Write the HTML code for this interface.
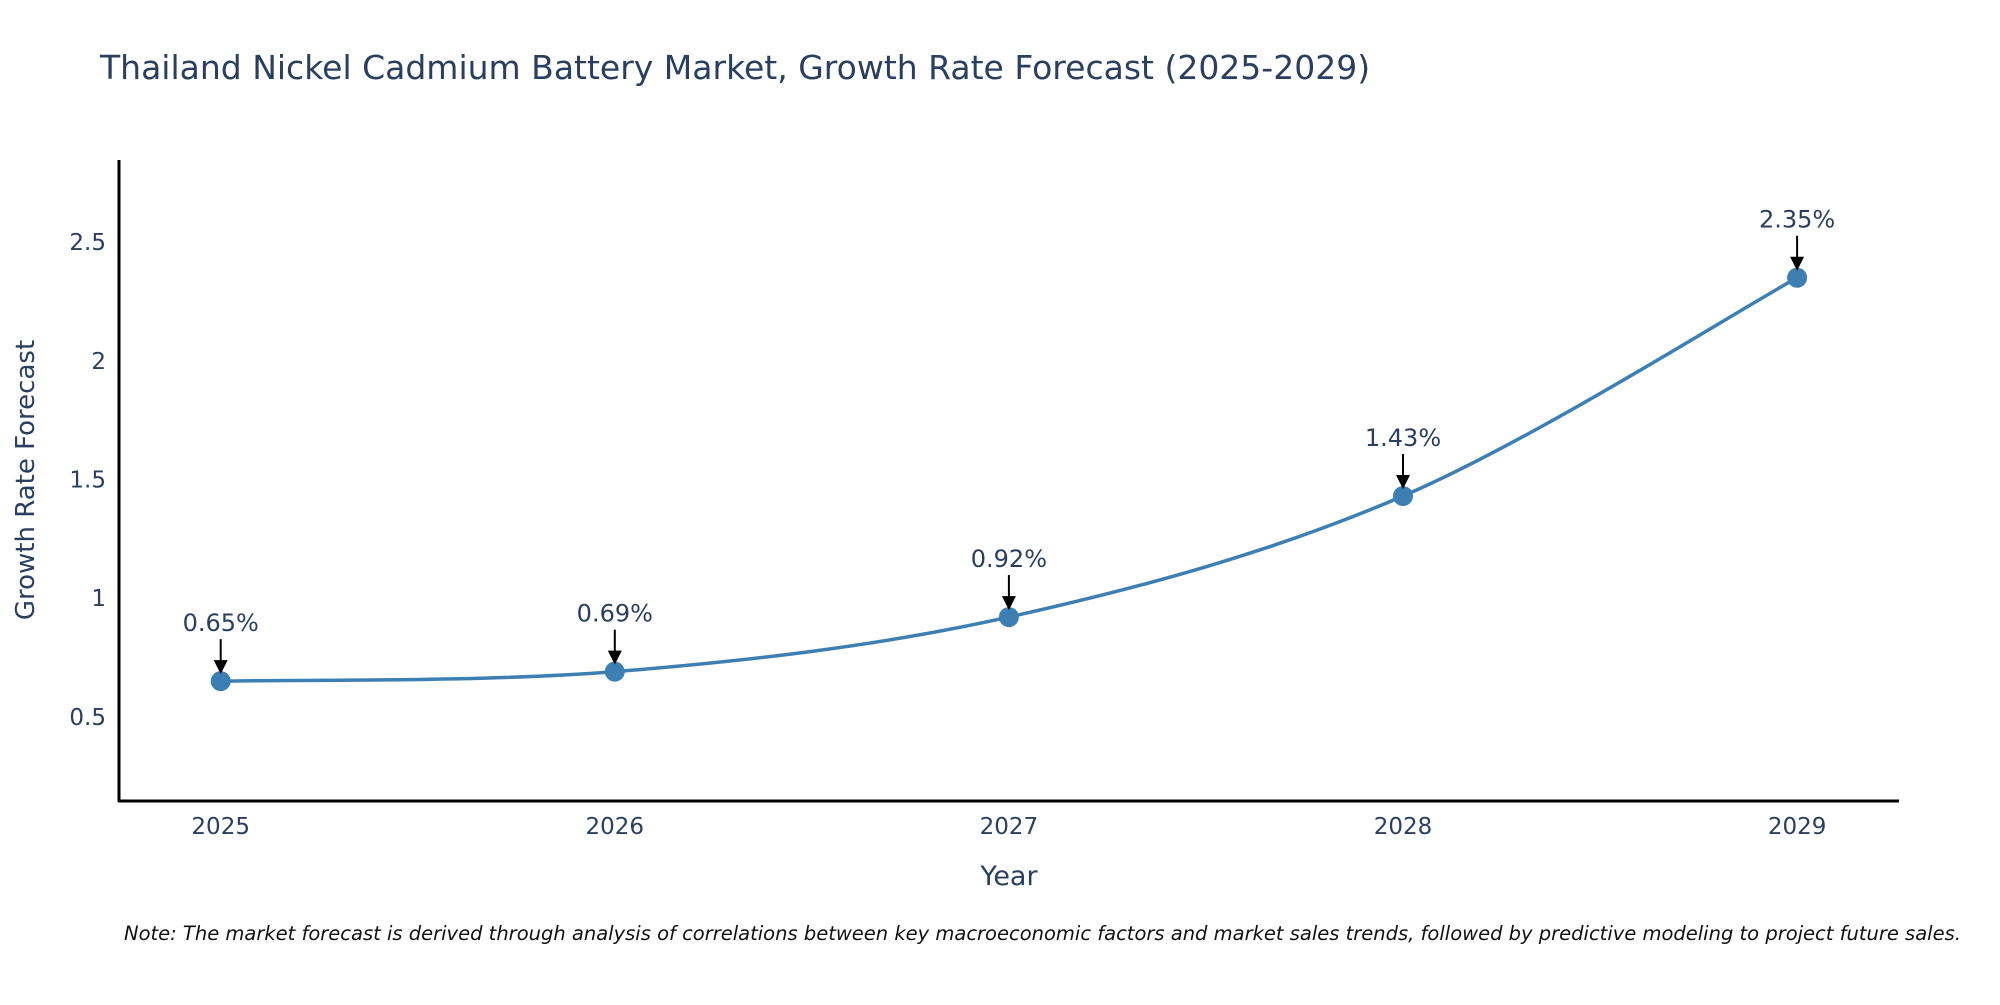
<!DOCTYPE html>
<html><head><meta charset="utf-8"><style>
body{margin:0;background:#fff;}
svg text{font-family:"DejaVu Sans","Liberation Sans",sans-serif;fill:#2a3f5f;}
</style></head><body>
<svg id="chart" width="2000" height="1000" viewBox="0 0 2000 1000" xmlns="http://www.w3.org/2000/svg">
<rect width="2000" height="1000" fill="#fff"/>
<text x="100" y="79" font-size="33">Thailand Nickel Cadmium Battery Market, Growth Rate Forecast (2025-2029)</text>
<g id="yticks"></g><g id="xticks"></g>
<line x1="119" y1="160" x2="119" y2="802" stroke="#000" stroke-width="3"/>
<line x1="118" y1="801" x2="1899" y2="801" stroke="#000" stroke-width="3"/>
<text transform="translate(34,480) rotate(-90)" text-anchor="middle" font-size="26">Growth Rate Forecast</text>
<text x="1009" y="885" text-anchor="middle" font-size="27">Year</text>
<path id="line" fill="none" stroke="#3d7fb3" stroke-width="3.5"/>
<g id="marks"></g>
<text x="124" y="940" font-size="19.5" font-style="italic" style="fill:#111">Note: The market forecast is derived through analysis of correlations between key macroeconomic factors and market sales trends, followed by predictive modeling to project future sales.</text>
</svg>
<script>
const years = [2025, 2026, 2027, 2028, 2029];
const values = [0.65, 0.69, 0.92, 1.43, 2.35];
const labels = ["0.65%", "0.69%", "0.92%", "1.43%", "2.35%"];
const yTicks = [0.5, 1, 1.5, 2, 2.5];
const yTickLabels = ["0.5", "1", "1.5", "2", "2.5"];
const NS = "http://www.w3.org/2000/svg";
const X = y => 220.7 + (y - 2025) * 394.1;
const Y = v => 835.4 - v * 237.3;
function mk(tag, attrs, parent, txt){const e=document.createElementNS(NS,tag);for(const k in attrs)e.setAttribute(k,attrs[k]);if(txt!==undefined)e.textContent=txt;parent.appendChild(e);return e;}
const yt=document.getElementById('yticks');
yTicks.forEach((t,i)=>{const e=mk('text',{x:106,y:Y(t)+8,'text-anchor':'end','font-size':23},yt,yTickLabels[i]);

});
const xt=document.getElementById('xticks');
years.forEach(yr=>{const e=mk('text',{x:X(yr),y:834,'text-anchor':'middle','font-size':23},xt,String(yr));

});
const pts=years.map((yr,i)=>[X(yr),Y(values[i])]);
let d=`M${pts[0][0]},${pts[0][1]}`;
for(let i=0;i<pts.length-1;i++){const p0=pts[Math.max(0,i-1)],p1=pts[i],p2=pts[i+1],p3=pts[Math.min(pts.length-1,i+2)];const s=1/6;
d+=` C${p1[0]+(p2[0]-p0[0])*s},${p1[1]+(p2[1]-p0[1])*s} ${p2[0]-(p3[0]-p1[0])*s},${p2[1]-(p3[1]-p1[1])*s} ${p2[0]},${p2[1]}`;}
document.getElementById('line').setAttribute('d',d);
const mg=document.getElementById('marks');
pts.forEach((p,i)=>{
const c=mk('circle',{cx:p[0],cy:p[1],r:10,fill:'#3d7fb3'},mg);


const a=mk('line',{x1:p[0],y1:p[1]-42,x2:p[0],y2:p[1]-20,stroke:'#000','stroke-width':2},mg);


const h=mk('polygon',{points:`${p[0]-7},${p[1]-21} ${p[0]+7},${p[1]-21} ${p[0]},${p[1]-7}`,fill:'#000'},mg);


const t=mk('text',{x:p[0],y:p[1]-50,'text-anchor':'middle','font-size':24},mg,labels[i]);


});
</script>
</body></html>
